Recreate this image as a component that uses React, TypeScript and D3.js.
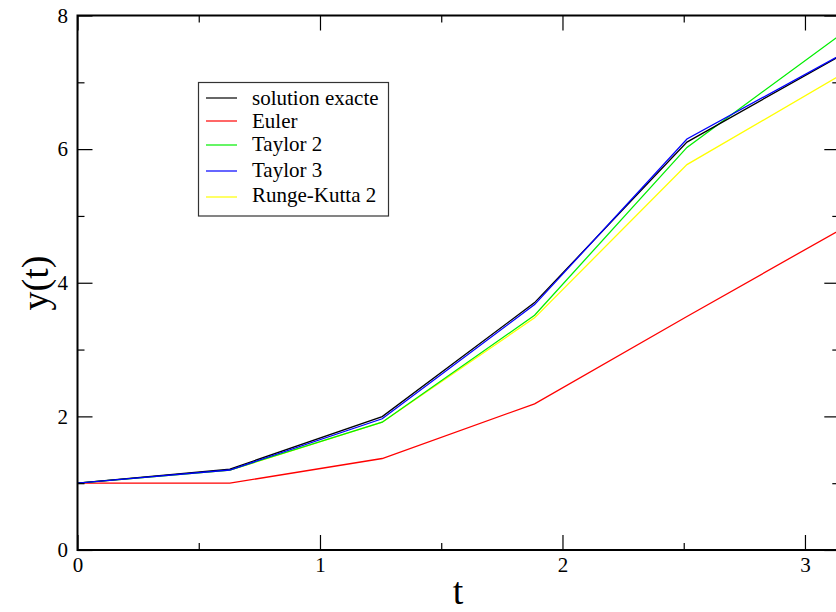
import React, { useEffect, useRef } from 'react';
import * as d3 from 'd3';

// t = k*pi/5, k = 0..5
const tValues = [0, 0.6283, 1.2566, 1.885, 2.5133, 3.1416];
const exacte = [1, 1.2104, 1.996, 3.7025, 6.1049, 7.3891];
const euler = [1, 1, 1.3693, 2.1876, 3.4949, 4.7856];
const taylor2 = [1, 1.1974, 1.9125, 3.5135, 6.026, 7.7002];
const taylor3 = [1, 1.1974, 1.9641, 3.6724, 6.1509, 7.3992];
const rungeKutta2 = [1, 1.1942, 1.9133, 3.4747, 5.7686, 7.0955];

const seriesNames = ['solution exacte', 'Euler', 'Taylor 2', 'Taylor 3', 'Runge-Kutta 2'];
const seriesColors = ['#000000', '#ff0000', '#00ee00', '#0000ff', '#ffff00'];

const xMajorTicks = [0, 1, 2, 3];
const xMinorTicks = [0.5, 1.5, 2.5];
const yMajorTicks = [0, 2, 4, 6, 8];
const yMinorTicks = [1, 3, 5, 7];

const W = 836;
const H = 612;
const FONT = '"Liberation Serif", "DejaVu Serif", serif';

export default function App() {
  const ref = useRef<SVGSVGElement>(null);

  useEffect(() => {
    const svg = d3.select(ref.current);
    svg.selectAll('*').remove();

    const left = 77.5, right = 839.3, top = 15.5, bottom = 550;
    const x = d3.scaleLinear().domain([0, Math.PI]).range([left, right]);
    const y = d3.scaleLinear().domain([0, 8]).range([bottom, top]);

    svg.append('rect').attr('width', W).attr('height', H).attr('fill', 'white');

    // data lines
    const line = d3.line<[number, number]>()
      .x(d => x(d[0]))
      .y(d => y(d[1]));
    const allSeries = [exacte, euler, taylor2, taylor3, rungeKutta2];
    const drawOrder = [1, 4, 2, 0, 3];
    drawOrder.forEach(i => {
      const pts = tValues.map((t, k) => [t, allSeries[i][k]] as [number, number]);
      svg.append('path')
        .datum(pts)
        .attr('d', line)
        .attr('fill', 'none')
        .attr('stroke', seriesColors[i])
        .attr('stroke-width', 1.3);
    });

    // axes: inward ticks on all sides
    const styleAxis = (g: any) => {
      g.select('.domain').remove();
      g.selectAll('line').attr('stroke', 'black').attr('stroke-width', 1.2);
      g.selectAll('text').attr('font-family', FONT).attr('font-size', 21).attr('fill', 'black');
    };

    svg.append('g').attr('transform', `translate(0,${bottom})`)
      .call(d3.axisBottom(x).tickValues(xMajorTicks).tickSize(-15).tickPadding(7).tickFormat(d3.format('d')))
      .call(styleAxis);
    svg.append('g').attr('transform', `translate(0,${bottom})`)
      .call(d3.axisBottom(x).tickValues(xMinorTicks).tickSize(-7).tickFormat(() => ''))
      .call(styleAxis);
    svg.append('g').attr('transform', `translate(0,${top})`)
      .call(d3.axisTop(x).tickValues(xMajorTicks).tickSize(-15).tickFormat(() => ''))
      .call(styleAxis);
    svg.append('g').attr('transform', `translate(0,${top})`)
      .call(d3.axisTop(x).tickValues(xMinorTicks).tickSize(-7).tickFormat(() => ''))
      .call(styleAxis);

    svg.append('g').attr('transform', `translate(${left},0)`)
      .call(d3.axisLeft(y).tickValues(yMajorTicks).tickSize(-15).tickPadding(9.5).tickFormat(d3.format('d')))
      .call(styleAxis);
    svg.append('g').attr('transform', `translate(${left},0)`)
      .call(d3.axisLeft(y).tickValues(yMinorTicks).tickSize(-7).tickFormat(() => ''))
      .call(styleAxis);
    svg.append('g').attr('transform', `translate(${right},0)`)
      .call(d3.axisRight(y).tickValues(yMajorTicks).tickSize(-15).tickFormat(() => ''))
      .call(styleAxis);
    svg.append('g').attr('transform', `translate(${right},0)`)
      .call(d3.axisRight(y).tickValues(yMinorTicks).tickSize(-7).tickFormat(() => ''))
      .call(styleAxis);

    // frame
    svg.append('rect')
      .attr('x', left).attr('y', top)
      .attr('width', right - left).attr('height', bottom - top)
      .attr('fill', 'none').attr('stroke', 'black').attr('stroke-width', 2);

    // axis titles
    svg.append('text')
      .attr('x', 458).attr('y', 604)
      .attr('text-anchor', 'middle')
      .attr('font-family', FONT).attr('font-size', 38)
      .text('t');
    svg.append('text')
      .attr('transform', 'translate(48,283) rotate(-90)')
      .attr('text-anchor', 'middle')
      .attr('font-family', FONT).attr('font-size', 38)
      .text('y(t)');

    // legend
    const legend = svg.append('g');
    legend.append('rect')
      .attr('x', 198.5).attr('y', 82.5).attr('width', 190).attr('height', 133.5)
      .attr('fill', 'white').attr('stroke', '#333').attr('stroke-width', 1.2);
    const rowY = [98, 121, 145, 171, 197];
    const textY = [105, 128, 151, 177, 202];
    seriesNames.forEach((name, i) => {
      legend.append('line')
        .attr('x1', 206).attr('x2', 237)
        .attr('y1', rowY[i]).attr('y2', rowY[i])
        .attr('stroke', seriesColors[i]).attr('stroke-width', 1.2);
      legend.append('text')
        .attr('x', 252).attr('y', textY[i])
        .attr('font-family', FONT).attr('font-size', 21)
        .text(name);
    });
  }, []);

  return (
    <svg ref={ref} width={W} height={H} style={{ position: 'absolute', left: 0, top: 0 }} />
  );
}
